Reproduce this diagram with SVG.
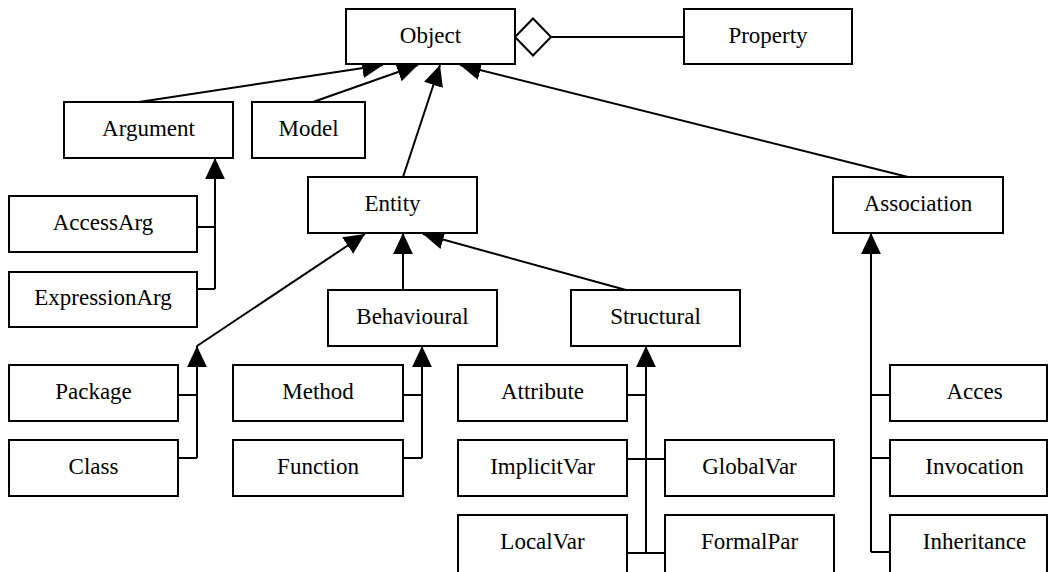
<svg xmlns="http://www.w3.org/2000/svg" width="1049" height="572" viewBox="0 0 1049 572">
<style>
.box{fill:#fff;stroke:#000;stroke-width:2}
.lbl{font-family:"Liberation Serif","Times New Roman",serif;font-size:23px;fill:#000;text-anchor:middle}
.e{fill:none;stroke:#000;stroke-width:2}
.a{marker-end:url(#tri)}
</style>
<defs>
<marker id="tri" markerUnits="userSpaceOnUse" markerWidth="22" markerHeight="22" viewBox="0 -10 20 20" refX="19" refY="0" orient="auto">
<path d="M0,-9 L19,0 L0,9 z" fill="#000"/>
</marker>
</defs>
<rect width="1049" height="572" fill="#fff"/>
<g id="connectors">
<line class="e a" x1="139" y1="102" x2="383" y2="65"/>
<line class="e a" x1="313" y1="102" x2="418" y2="65"/>
<line class="e a" x1="403" y1="177" x2="440" y2="65"/>
<line class="e a" x1="908" y1="177" x2="460" y2="65"/>
<polygon points="515,37 533,18.5 551,37 533,55.5" fill="#fff" stroke="#000" stroke-width="2"/>
<line class="e" x1="551" y1="37" x2="684" y2="37"/>
<polyline class="e" points="197,227 215,227"/>
<polyline class="e" points="197,289 215,289"/>
<line class="e a" x1="215" y1="289" x2="215" y2="158"/>
<line class="e a" x1="403" y1="290" x2="403" y2="233"/>
<line class="e a" x1="626" y1="290" x2="423" y2="234"/>
<polyline class="e" points="178,395 197,395"/>
<polyline class="e" points="178,458 197,458"/>
<line class="e a" x1="197" y1="458" x2="197" y2="346"/>
<line class="e a" x1="197" y1="346" x2="365" y2="234"/>
<polyline class="e" points="403,395 422,395"/>
<polyline class="e" points="403,458 422,458"/>
<line class="e a" x1="422" y1="458" x2="422" y2="346"/>
<polyline class="e" points="627,395 646,395"/>
<polyline class="e" points="627,459 665,459"/>
<polyline class="e" points="627,553 665,553"/>
<line class="e a" x1="646" y1="553" x2="646" y2="346"/>
<polyline class="e" points="871,395 890,395"/>
<polyline class="e" points="871,458 890,458"/>
<polyline class="e" points="871,552 890,552"/>
<line class="e a" x1="871" y1="552" x2="871" y2="233"/>
</g>
<g id="Object"><rect class="box" x="346" y="9" width="169" height="55"/><text class="lbl" x="430.5" y="43">Object</text></g>
<g id="Property"><rect class="box" x="684" y="9" width="168" height="55"/><text class="lbl" x="768" y="43">Property</text></g>
<g id="Argument"><rect class="box" x="64" y="102" width="169" height="56"/><text class="lbl" x="148.5" y="136">Argument</text></g>
<g id="Model"><rect class="box" x="252" y="102" width="113" height="56"/><text class="lbl" x="308.5" y="136">Model</text></g>
<g id="Entity"><rect class="box" x="308" y="177" width="169" height="56"/><text class="lbl" x="392.5" y="211">Entity</text></g>
<g id="Association"><rect class="box" x="833" y="177" width="170" height="56"/><text class="lbl" x="918" y="211">Association</text></g>
<g id="AccessArg"><rect class="box" x="9" y="196" width="188" height="56"/><text class="lbl" x="103" y="230">AccessArg</text></g>
<g id="ExpressionArg"><rect class="box" x="9" y="272" width="188" height="55"/><text class="lbl" x="103" y="305">ExpressionArg</text></g>
<g id="Behavioural"><rect class="box" x="328" y="290" width="169" height="56"/><text class="lbl" x="412.5" y="324">Behavioural</text></g>
<g id="Structural"><rect class="box" x="571" y="290" width="169" height="56"/><text class="lbl" x="655.5" y="324">Structural</text></g>
<g id="Package"><rect class="box" x="9" y="365" width="169" height="56"/><text class="lbl" x="93.5" y="399">Package</text></g>
<g id="Class"><rect class="box" x="9" y="440" width="169" height="56"/><text class="lbl" x="93.5" y="474">Class</text></g>
<g id="Method"><rect class="box" x="233" y="365" width="170" height="56"/><text class="lbl" x="318" y="399">Method</text></g>
<g id="Function"><rect class="box" x="233" y="440" width="170" height="56"/><text class="lbl" x="318" y="474">Function</text></g>
<g id="Attribute"><rect class="box" x="458" y="365" width="169" height="56"/><text class="lbl" x="542.5" y="399">Attribute</text></g>
<g id="ImplicitVar"><rect class="box" x="458" y="440" width="169" height="56"/><text class="lbl" x="542.5" y="474">ImplicitVar</text></g>
<g id="LocalVar"><rect class="box" x="458" y="515" width="169" height="60"/><text class="lbl" x="542.5" y="549">LocalVar</text></g>
<g id="GlobalVar"><rect class="box" x="665" y="440" width="169" height="56"/><text class="lbl" x="749.5" y="474">GlobalVar</text></g>
<g id="FormalPar"><rect class="box" x="665" y="515" width="169" height="60"/><text class="lbl" x="749.5" y="549">FormalPar</text></g>
<g id="Acces"><rect class="box" x="890" y="365" width="157" height="56"/><text class="lbl" x="974.5" y="399">Acces</text></g>
<g id="Invocation"><rect class="box" x="890" y="440" width="157" height="56"/><text class="lbl" x="974.5" y="474">Invocation</text></g>
<g id="Inheritance"><rect class="box" x="890" y="515" width="157" height="60"/><text class="lbl" x="974.5" y="549">Inheritance</text></g>
</svg>
